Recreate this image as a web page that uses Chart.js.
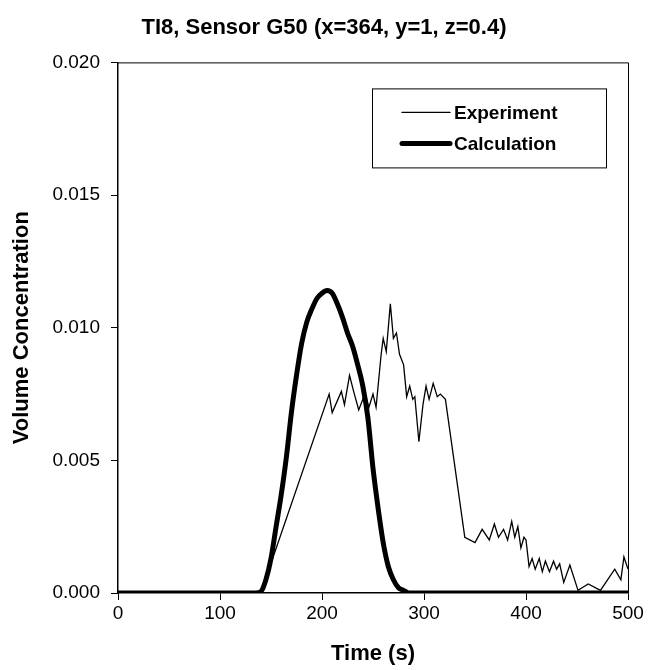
<!DOCTYPE html>
<html>
<head>
<meta charset="utf-8">
<script src="https://cdn.jsdelivr.net/npm/chart.js@4/dist/chart.umd.min.js"></script>
<style>
html,body{margin:0;padding:0;background:#fff;}
#wrap{width:648px;height:670px;}
</style>
</head>
<body>
<div id="wrap"><canvas id="c" width="648" height="670"></canvas></div>
<script>
const titleText = "TI8, Sensor G50 (x=364, y=1, z=0.4)";
const xTitle = "Time (s)";
const yTitle = "Volume Concentration";
const seriesNames = ["Experiment", "Calculation"];
const xTicks = [0, 100, 200, 300, 400, 500];
const yTicks = [0, 0.005, 0.010, 0.015, 0.020];

const expTime = [0, 140, 207, 210, 219, 222, 227, 231, 236, 242, 246, 250, 253, 258, 260, 263, 267, 270, 273, 276, 280, 283, 286, 289, 291, 295, 299, 302, 305, 309, 313, 316, 321, 340, 350, 357, 364, 369, 373, 378, 382, 386, 389, 392, 395, 398, 400, 403, 406, 409, 413, 416, 419, 423, 427, 430, 433, 437, 443, 451, 461, 473, 487, 493, 496, 500];
const expValue = [0, 0, 0.0075, 0.0068, 0.0076, 0.0071, 0.0082, 0.0076, 0.0069, 0.0075, 0.0070, 0.0075, 0.0070, 0.0090, 0.0096, 0.0091, 0.0109, 0.0096, 0.0098, 0.0090, 0.0086, 0.0074, 0.0078, 0.0073, 0.0074, 0.0057, 0.0071, 0.0078, 0.0073, 0.0079, 0.0074, 0.0075, 0.0073, 0.0021, 0.0019, 0.0024, 0.0020, 0.0026, 0.0021, 0.0024, 0.0020, 0.0027, 0.0021, 0.0025, 0.0017, 0.0021, 0.0020, 0.0010, 0.0013, 0.0009, 0.0013, 0.0008, 0.0012, 0.0008, 0.0012, 0.0009, 0.0011, 0.0004, 0.00105, 0.0001, 0.00034, 0.0001, 0.0009, 0.0005, 0.00136, 0.0009];

const calcTime = [0, 135, 140, 145, 150, 155, 160, 165, 170, 175, 180, 185, 190, 195, 200, 205, 210, 215, 220, 225, 230, 235, 240, 245, 250, 255, 260, 265, 270, 275, 280, 285, 500];
const calcValue = [0, 0, 0.00005, 0.0005, 0.0013, 0.0025, 0.0037, 0.0051, 0.0068, 0.0082, 0.0094, 0.0102, 0.0107, 0.0111, 0.0113, 0.0114, 0.0113, 0.0109, 0.0104, 0.0098, 0.0093, 0.0086, 0.0078, 0.0066, 0.0047, 0.0032, 0.0019, 0.0010, 0.0005, 0.0002, 0.0001, 0, 0];

const toXY = (xs, ys) => xs.map((x, i) => ({x: x, y: ys[i]}));
const FONT = "'Liberation Sans', Arial, Helvetica, sans-serif";

const frameAndLegend = {
  id: 'frameAndLegend',
  afterDraw(chart) {
    const ctx = chart.ctx;
    const a = chart.chartArea;
    ctx.save();
    ctx.strokeStyle = '#000';
    ctx.lineWidth = 1;
    ctx.beginPath();
    ctx.moveTo(a.left, a.top + 0.5);
    ctx.lineTo(a.right + 0.5, a.top + 0.5);
    ctx.lineTo(a.right + 0.5, a.bottom);
    ctx.stroke();
    // legend box
    const bx = a.left + 254, by = a.top + 26, bw = 234, bh = 79;
    ctx.fillStyle = '#fff';
    ctx.fillRect(bx, by, bw, bh);
    ctx.lineWidth = 1;
    ctx.strokeRect(bx + 0.5, by + 0.5, bw, bh);
    const ds = chart.data.datasets;
    const order = [1, 0];
    ctx.font = "bold 19px " + FONT;
    ctx.textBaseline = 'middle';
    ctx.fillStyle = '#000';
    order.forEach((di, row) => {
      const d = ds[di];
      const cy = by + 24 + row * 31;
      ctx.beginPath();
      ctx.lineWidth = d.borderWidth;
      ctx.lineCap = 'round';
      ctx.moveTo(bx + 30, cy);
      ctx.lineTo(bx + 78, cy);
      ctx.stroke();
      ctx.fillText(d.label, bx + 82, cy + 1);
    });
    ctx.restore();
  }
};

new Chart(document.getElementById('c'), {
  type: 'line',
  data: {
    datasets: [
      {
        label: seriesNames[1],
        data: toXY(calcTime, calcValue),
        borderColor: '#000',
        borderWidth: 5,
        pointRadius: 0,
        fill: false,
        cubicInterpolationMode: 'monotone',
        borderJoinStyle: 'round',
        borderCapStyle: 'round'
      },
      {
        label: seriesNames[0],
        data: toXY(expTime, expValue),
        borderColor: '#000',
        borderWidth: 1.3,
        pointRadius: 0,
        fill: false,
        tension: 0
      }
    ]
  },
  options: {
    responsive: false,
    animation: false,
    devicePixelRatio: 1,
    layout: { padding: { left: 0, right: 0, top: 0, bottom: 0 } },
    plugins: {
      legend: { display: false },
      tooltip: { enabled: false },
      title: {
        display: true,
        text: titleText,
        color: '#000',
        font: { family: FONT, size: 22, weight: 'bold' },
        padding: { top: 15, bottom: 21 }
      }
    },
    scales: {
      x: {
        type: 'linear',
        min: 0, max: 500,
        afterBuildTicks: s => { s.ticks = xTicks.map(v => ({value: v})); },
        afterFit: s => { s.height = 77; },
        ticks: {
          color: '#000',
          font: { family: FONT, size: 19 },
          padding: 2,
          maxRotation: 0,
          callback: v => String(v)
        },
        grid: { display: true, drawOnChartArea: false, drawTicks: true, tickLength: 7, color: '#000', lineWidth: 1 },
        border: { display: true, color: '#000', width: 1.5 },
        title: {
          display: true,
          text: xTitle,
          color: '#000',
          font: { family: FONT, size: 22, weight: 'bold' },
          padding: { top: 0, bottom: 3 }
        }
      },
      y: {
        type: 'linear',
        min: 0, max: 0.02,
        afterBuildTicks: s => { s.ticks = yTicks.map(v => ({value: v})); },
        afterFit: s => { s.width = 118; },
        ticks: {
          color: '#000',
          font: { family: FONT, size: 19 },
          padding: 11,
          callback: v => Number(v).toFixed(3)
        },
        grid: { display: true, drawOnChartArea: false, drawTicks: true, tickLength: 7, color: '#000', lineWidth: 1 },
        border: { display: true, color: '#000', width: 1.5 },
        title: {
          display: true,
          text: yTitle,
          color: '#000',
          font: { family: FONT, size: 22, weight: 'bold' },
          padding: { top: 9, bottom: 0 }
        }
      },
      yRight: {
        type: 'linear',
        position: 'right',
        min: 0, max: 1,
        afterFit: s => { s.width = 20; },
        ticks: { display: false },
        grid: { display: false, drawTicks: false },
        border: { display: false }
      }
    }
  },
  plugins: [frameAndLegend]
});
</script>
</body>
</html>
